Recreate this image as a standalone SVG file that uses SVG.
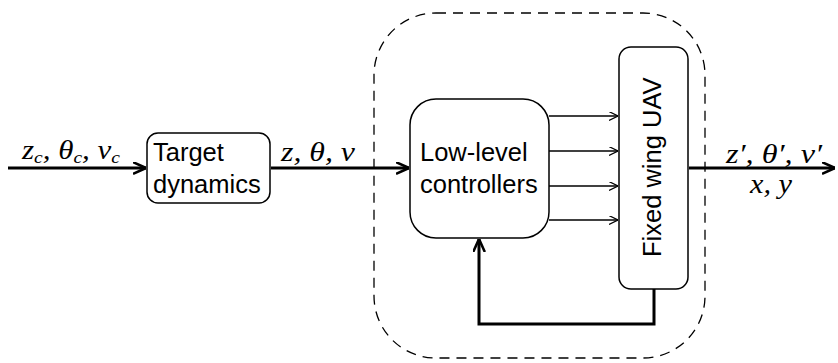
<svg xmlns="http://www.w3.org/2000/svg" width="838" height="363" viewBox="0 0 838 363">
<defs>
<marker id="ah" viewBox="0 0 10 10" refX="10" refY="5" markerWidth="9" markerHeight="9" markerUnits="userSpaceOnUse" orient="auto">
<path d="M0,0 L10,5 L0,10" fill="none" stroke="#000" stroke-width="1.3"/>
</marker>
<marker id="ahb" viewBox="0 0 10 10" refX="10" refY="5" markerWidth="13" markerHeight="13" markerUnits="userSpaceOnUse" orient="auto">
<path d="M0,0.5 L10,5 L0,9.5" fill="none" stroke="#000" stroke-width="2"/>
</marker>
</defs>
<style>
.box{fill:#fff;stroke:#000;stroke-width:1.5}
.lbl{font-family:"Liberation Sans",Arial,sans-serif;font-size:25.5px;fill:#000}
.math{font-family:"Liberation Serif","DejaVu Serif",serif;font-style:italic;font-size:27px;fill:#000}
.sub{font-size:17px}
.thick{stroke:#000;stroke-width:3;fill:none}
.thin{stroke:#000;stroke-width:1.3;fill:none}
</style>
<g id="subsystem">
<rect x="374" y="13" width="331" height="345" rx="62" fill="none" stroke="#000" stroke-width="1.3" stroke-dasharray="10,7"/>
</g>
<g id="connectors">
<line class="thick" x1="8" y1="168" x2="146" y2="168" marker-end="url(#ahb)"/>
<line class="thick" x1="271" y1="168" x2="409" y2="168" marker-end="url(#ahb)"/>
<line class="thick" x1="689" y1="168" x2="835" y2="168" marker-end="url(#ahb)"/>
<line class="thin" x1="549" y1="116" x2="618" y2="116" marker-end="url(#ah)"/>
<line class="thin" x1="549" y1="151" x2="618" y2="151" marker-end="url(#ah)"/>
<line class="thin" x1="549" y1="186" x2="618" y2="186" marker-end="url(#ah)"/>
<line class="thin" x1="549" y1="220" x2="618" y2="220" marker-end="url(#ah)"/>
<polyline class="thick" points="654,289 654,324 479,324 479,239" marker-end="url(#ahb)"/>
</g>
<g id="target">
<rect class="box" x="147" y="133" width="123" height="70" rx="11"/>
<text class="lbl" x="153" y="161">Target</text>
<text class="lbl" x="153" y="193">dynamics</text>
</g>
<g id="controllers">
<rect class="box" x="410" y="99" width="139" height="139" rx="26"/>
<text class="lbl" x="420" y="161">Low-level</text>
<text class="lbl" x="420" y="193">controllers</text>
</g>
<g id="uav">
<rect class="box" x="619" y="47" width="69" height="242" rx="12"/>
<text class="lbl" x="-257" y="661" transform="rotate(-90)">Fixed wing UAV</text>
</g>
<g id="labels">
<text class="math" x="22" y="159" textLength="98" lengthAdjust="spacingAndGlyphs">z<tspan class="sub" dy="4">c</tspan><tspan dy="-4">, θ</tspan><tspan class="sub" dy="4">c</tspan><tspan dy="-4">, v</tspan><tspan class="sub" dy="4">c</tspan></text>
<text class="math" x="281" y="161" textLength="74" lengthAdjust="spacingAndGlyphs">z, θ, v</text>
<text class="math" x="726" y="163" textLength="96" lengthAdjust="spacingAndGlyphs">z′, θ′, v′</text>
<text class="math" x="750" y="193" textLength="42" lengthAdjust="spacingAndGlyphs">x, y</text>
</g>
</svg>
